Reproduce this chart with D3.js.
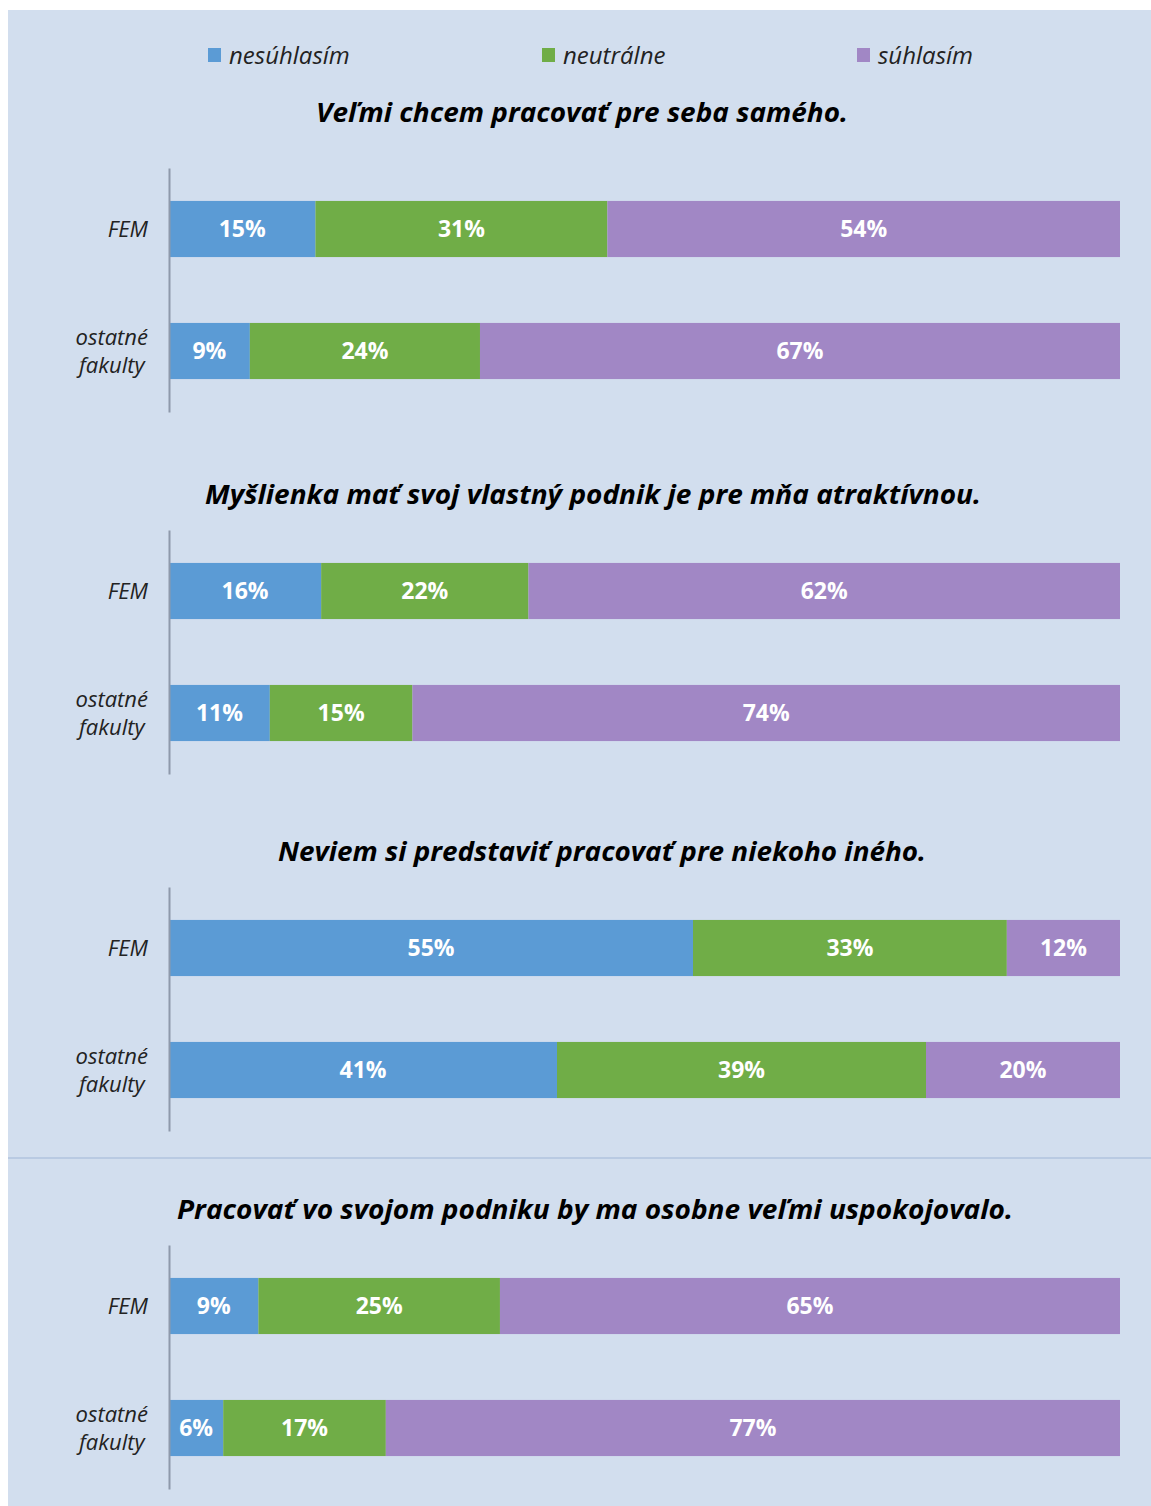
<!DOCTYPE html>
<html>
<head>
<meta charset="utf-8">
<script src="https://cdn.jsdelivr.net/npm/d3@7"></script>
<style>
  body { margin: 0; background: #fff; }
  svg text { font-family: "Open Sans", Carlito, sans-serif; }
</style>
</head>
<body>
<div id="chart"></div>
<script>
// otázky (jeden panel na otázku)
var questions = [
    "Veľmi chcem pracovať pre seba samého.",
    "Myšlienka mať svoj vlastný podnik je pre mňa atraktívnou.",
    "Neviem si predstaviť pracovať pre niekoho iného.",
    "Pracovať vo svojom podniku by ma osobne veľmi uspokojovalo."
];
var groups = ["FEM", "ostatné fakulty"];
var series = ["nesúhlasím", "neutrálne", "súhlasím"];

// hodnoty v % odčítané z obrázka : [FEM, ostatné fakulty]
var nesuhlasim = [[15.4, 8.5], [16.0, 10.6], [55.1, 40.8], [9.4, 5.7]];
var neutralne  = [[30.7, 24.2], [21.8, 15.0], [33.0, 38.8], [25.4, 17.1]];
var suhlasim   = [[53.9, 67.3], [62.2, 74.4], [11.9, 20.4], [65.2, 77.2]];

var width = 1151, height = 1506;
var colors = d3.scaleOrdinal().domain(series).range(["#5b9bd5", "#70ad47", "#a187c5"]);

var svg = d3.select("#chart").append("svg")
    .attr("width", width)
    .attr("height", height);

// pozadie
svg.append("rect")
    .attr("x", 8).attr("y", 10)
    .attr("width", width - 8).attr("height", height - 10)
    .attr("fill", "#d2deee");

// deliaca čiara medzi obrázkami
svg.append("line")
    .attr("x1", 8).attr("x2", width)
    .attr("y1", 1158).attr("y2", 1158)
    .attr("stroke", "#b9cae2")
    .attr("stroke-width", 2);

var x = d3.scaleLinear().domain([0, 100]).range([169, 1120]);

// legenda
var legendX = [208, 542, 857];
var legend = svg.append("g");
series.forEach(function (s, i) {
    legend.append("rect")
        .attr("x", legendX[i]).attr("y", 48)
        .attr("width", 13).attr("height", 14)
        .attr("fill", colors(s));
    legend.append("text")
        .attr("x", legendX[i] + 21).attr("y", 64)
        .attr("font-size", "24px")
        .attr("font-style", "italic")
        .attr("fill", "#222")
        .text(s);
});

var panelTop = [168, 530, 887, 1245];
var titleY = [122, 504, 861, 1219];
var titleX = [582, 593, 602, 595];
var titleW = [532, 776, 648, 836];
var panelH = 244;

questions.forEach(function (q, qi) {
    var g = svg.append("g");

    g.append("text")
        .attr("x", titleX[qi]).attr("y", titleY[qi])
        .attr("text-anchor", "middle")
        .attr("font-size", "27px")
        .attr("font-weight", "bold")
        .attr("font-style", "italic")
        .attr("fill", "#000")
        .attr("textLength", titleW[qi])
        .attr("lengthAdjust", "spacingAndGlyphs")
        .text(q);

    var y = d3.scaleBand()
        .domain(groups)
        .range([panelTop[qi], panelTop[qi] + panelH])
        .paddingInner(0.54)
        .paddingOuter(0.27);

    var rows = groups.map(function (grp, gi) {
        var vals = [nesuhlasim[qi][gi], neutralne[qi][gi], suhlasim[qi][gi]];
        var total = d3.sum(vals);
        var start = 0;
        return vals.map(function (v, si) {
            var seg = { group: grp, series: series[si], value: v,
                        x0: start / total * 100, x1: (start + v) / total * 100 };
            start += v;
            return seg;
        });
    });
    var segs = d3.merge(rows);

    g.selectAll(".bar")
        .data(segs)
        .join("rect")
        .attr("class", "bar")
        .attr("x", function (d) { return x(d.x0); })
        .attr("y", function (d) { return y(d.group); })
        .attr("width", function (d) { return x(d.x1) - x(d.x0); })
        .attr("height", y.bandwidth())
        .attr("fill", function (d) { return colors(d.series); });

    g.selectAll(".val")
        .data(segs)
        .join("text")
        .attr("class", "val")
        .attr("x", function (d) { return (x(d.x0) + x(d.x1)) / 2; })
        .attr("y", function (d) { return y(d.group) + y.bandwidth() / 2; })
        .attr("dy", "0.36em")
        .attr("text-anchor", "middle")
        .attr("font-size", "23px")
        .attr("font-weight", "bold")
        .attr("fill", "#fff")
        .text(function (d) { return Math.round(d.value) + "%"; });

    // os y
    var axis = g.append("g")
        .attr("transform", "translate(169,0)")
        .call(d3.axisLeft(y).tickSize(0).tickFormat(""));
    axis.select(".domain").attr("stroke", "#8e99ab").attr("stroke-width", 2);

    // popisy kategórií (viacriadkové centrované v bloku zarovnanom vpravo)
    groups.forEach(function (grp) {
        var words = grp.split(" ");
        var cy = y(grp) + y.bandwidth() / 2;
        var t = g.append("text")
            .attr("font-size", "22px")
            .attr("font-style", "italic")
            .attr("fill", "#222");
        var spans = words.map(function (w, wi) {
            return t.append("tspan")
                .attr("y", cy + (wi - (words.length - 1) / 2) * 28)
                .attr("dy", "0.35em")
                .text(w);
        });
        var maxW = d3.max(spans, function (s) { return s.node().getComputedTextLength(); });
        t.attr("text-anchor", "middle");
        spans.forEach(function (s) { s.attr("x", 148 - maxW / 2); });
    });
});
</script>
</body>
</html>
